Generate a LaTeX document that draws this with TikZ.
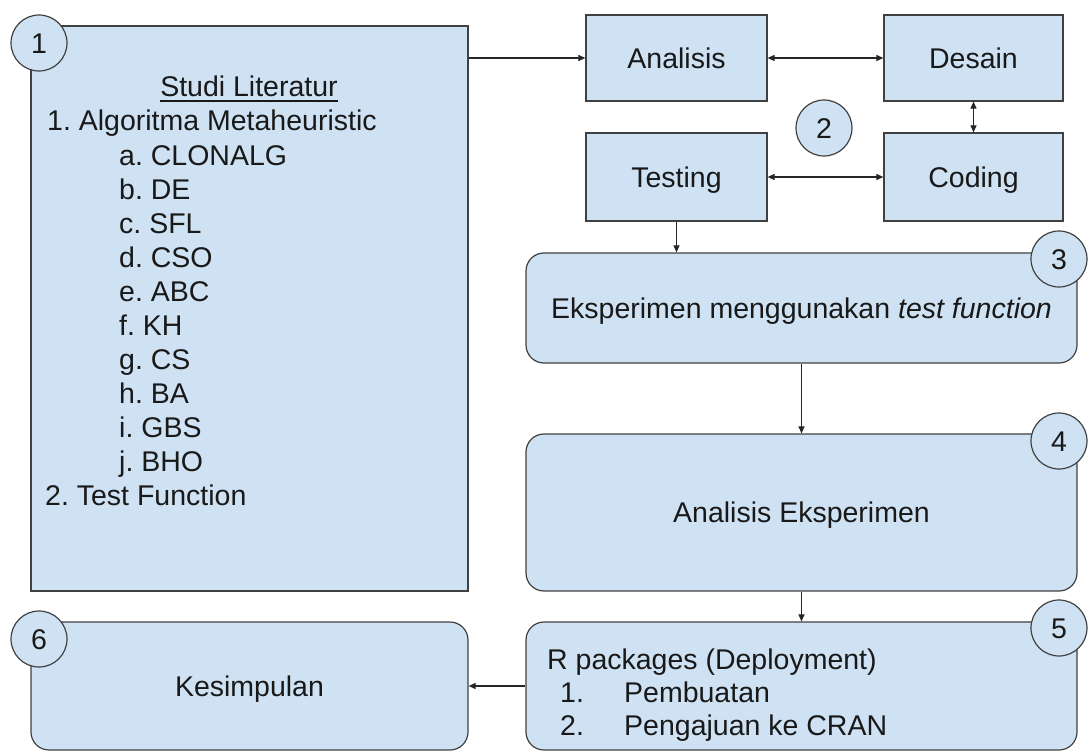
\documentclass[tikz,border=0pt]{standalone}
\usepackage{fontspec}
\setmainfont{Liberation Sans}
\usetikzlibrary{arrows.meta}
\definecolor{fillb}{HTML}{CFE2F3}
\definecolor{edge}{HTML}{404040}
\frenchspacing
\begin{document}
\begin{tikzpicture}[x=1pt,y=-1pt,
 every node/.style={font=\fontsize{28.5}{34}\selectfont, text=black!90},
 box/.style={draw=edge, fill=fillb, line width=1.2pt, inner sep=0pt, text height=20.4pt, text depth=0pt},
 rbox/.style={box, rounded corners=18pt},
 num/.style={circle, draw=edge, fill=fillb, line width=1.2pt, minimum size=56pt, inner sep=0pt, text height=20.4pt, text depth=0pt},
 txt/.style={inner sep=0pt, anchor=base west},
 tip/.tip={Triangle[length=7pt,width=6pt]},
 arr/.style={draw=black!85, line width=1.1pt, -tip},
 darr/.style={draw=black!85, line width=1.1pt, tip-tip}]
\useasboundingbox (0,0) rectangle (1088,752);

% boxes
\node[box, minimum width=437pt, minimum height=565pt] (b1) at (249.5,308.5) {};
\node[box, minimum width=181pt, minimum height=86pt] (an) at (676.5,58) {Analisis};
\node[box, minimum width=179pt, minimum height=86pt] (de) at (973.5,58) {Desain};
\node[box, minimum width=181pt, minimum height=88pt] (te) at (676.5,177) {Testing};
\node[box, minimum width=179pt, minimum height=88pt] (co) at (973.5,177) {Coding};
\node[rbox, minimum width=551pt, minimum height=110pt] (b3) at (801.5,308) {Eksperimen menggunakan \textit{test function}};
\node[rbox, minimum width=551pt, minimum height=157pt] (b4) at (801.5,512.5) {Analisis Eksperimen};
\node[rbox, minimum width=551pt, minimum height=128pt] (b5) at (801.5,686) {};
\node[rbox, minimum width=437pt, minimum height=128pt] (b6) at (249.5,686) {Kesimpulan};

% box 1 text
\node[txt, anchor=base] (st) at (249,97) {Studi Literatur};
\draw[line width=1.3pt, black!90] ([yshift=-4pt]st.base west) -- ([yshift=-4pt]st.base east);
\node[txt] (l1) at (47,131) {1. Algoritma Metaheuristic};
\node[txt] (la) at (119,165) {a. CLONALG};
\node[txt] (lb) at (119,199) {b. DE};
\node[txt] (lc) at (119,233) {c. SFL};
\node[txt] (ld) at (119,267) {d. CSO};
\node[txt] (le) at (119,301) {e. ABC};
\node[txt] (lf) at (119,335) {f. KH};
\node[txt] (lg) at (119,369) {g. CS};
\node[txt] (lh) at (119,403) {h. BA};
\node[txt] (li) at (119,437) {i. GBS};
\node[txt] (lj) at (119,471) {j. BHO};
\node[txt] (l2) at (45,505) {2. Test Function};

% box 5 text
\node[txt] (r0) at (547,669) {R packages (Deployment)};
\node[txt] (r1n) at (560,702) {1.};
\node[txt] (r1) at (624,702) {Pembuatan};
\node[txt] (r2n) at (560,735) {2.};
\node[txt] (r2) at (624,735) {Pengajuan ke CRAN};

% number circles
\node[num] (c1) at (39,43) {1};
\node[num] (c2) at (824,128) {2};
\node[num] (c3) at (1059,259) {3};
\node[num] (c4) at (1059,441) {4};
\node[num] (c5) at (1059,628) {5};
\node[num] (c6) at (39,639) {6};

% connectors
\draw[arr] (b1.east |- an.west) -- (an.west);
\draw[darr] (an.east) -- (de.west);
\draw[darr] (de.south) -- (co.north);
\draw[darr] (te.east) -- (co.west);
\draw[arr] (te.south) -- (te.south |- b3.north);
\draw[arr] (b3.south) -- (b4.north);
\draw[arr] (b4.south) -- (b5.north);
\draw[arr] (b5.west) -- (b6.east);
\end{tikzpicture}
\end{document}
